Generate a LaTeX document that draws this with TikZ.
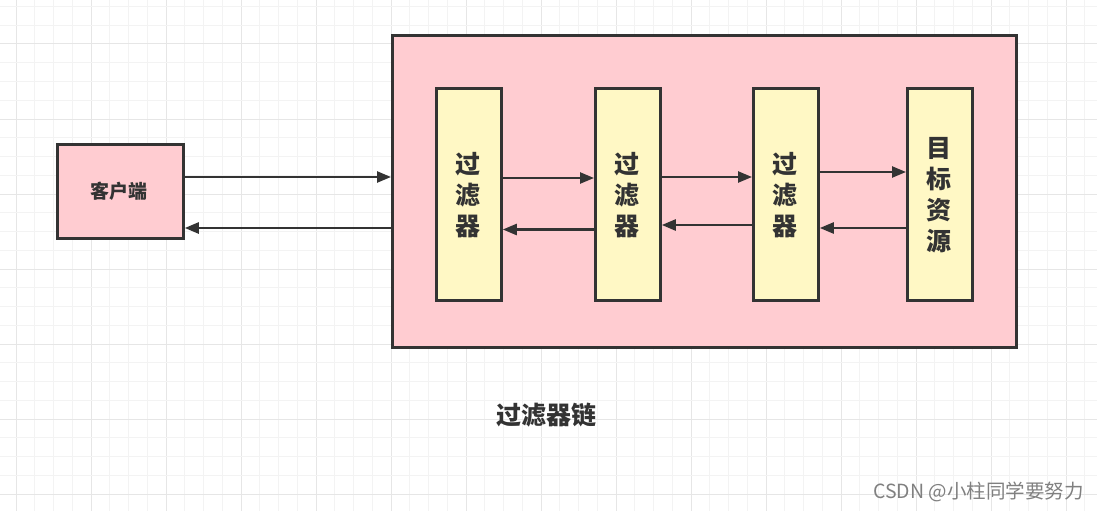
\documentclass[tikz,border=0pt]{standalone}
\usepackage{fontspec}
\newfontfamily\cjk{Noto Sans CJK SC}
\usetikzlibrary{arrows.meta}
\definecolor{pinkfill}{HTML}{FFCCD1}
\definecolor{yellowfill}{HTML}{FFF8C5}
\definecolor{edge}{HTML}{333333}
\definecolor{gridminor}{HTML}{F3F3F3}
\definecolor{gridmajor}{HTML}{E6E6E6}
\tikzset{
  box/.style={draw=edge, line width=2.8pt, inner sep=0pt, anchor=north west},
  pinkbox/.style={box, fill=pinkfill},
  filterbox/.style={box, fill=yellowfill, minimum width=65pt, minimum height=212pt},
  vlabel/.style={font=\cjk\bfseries\fontsize{25}{31}\selectfont, text=edge, align=center, inner sep=0pt},
  arr/.style={draw=edge, line width=2.5pt, -{Triangle[length=14pt,width=11pt]}},
}
\begin{document}
\begin{tikzpicture}[x=1pt,y=-1pt]
\useasboundingbox (0,0) rectangle (1097,511);
\fill[white] (0,0) rectangle (1097,511);
% grid
\foreach \k in {-1,...,58}{
  \pgfmathtruncatemacro{\m}{mod(\k+4,4)}
  \ifnum\m=0 \draw[gridmajor, line width=1pt] ({16+\k*18.75},0) -- ({16+\k*18.75},511);
  \else \draw[gridminor, line width=1pt] ({16+\k*18.75},0) -- ({16+\k*18.75},511); \fi
}
\foreach \k in {-3,...,25}{
  \pgfmathtruncatemacro{\m}{mod(\k+4,4)}
  \ifnum\m=0 \draw[gridmajor, line width=1pt] (0,{44+\k*18.75}) -- (1097,{44+\k*18.75});
  \else \draw[gridminor, line width=1pt] (0,{44+\k*18.75}) -- (1097,{44+\k*18.75}); \fi
}
% boxes
\node[pinkbox, minimum width=126pt, minimum height=94pt] (client) at (56,143) {};
\node[font=\cjk\bfseries\fontsize{19}{22}\selectfont, text=edge] (clientlabel) at (119,191) {客户端};
\node[pinkbox, minimum width=624pt, minimum height=312pt] (chain) at (391,34) {};
\node[filterbox] (f1) at (435,87) {};
\node[filterbox] (f2) at (594,87) {};
\node[filterbox] (f3) at (752,87) {};
\node[filterbox] (t) at (906,87) {};
\node[vlabel] (f1l) at (467.5,195) {过\\滤\\器};
\node[vlabel] (f2l) at (626.5,195) {过\\滤\\器};
\node[vlabel] (f3l) at (784.5,195) {过\\滤\\器};
\node[vlabel] (tl) at (938.5,195) {目\\标\\资\\源};
% arrows
\draw[arr] (client.east |- 0,177) -- (chain.west |- 0,177);
\draw[arr] (chain.west |- 0,228) -- (client.east |- 0,228);
\draw[arr] (f1.east |- 0,178) -- (f2.west |- 0,178);
\draw[arr] (f2.west |- 0,229.5) -- (f1.east |- 0,229.5);
\draw[arr] (f2.east |- 0,177) -- (f3.west |- 0,177);
\draw[arr] (f3.west |- 0,225) -- (f2.east |- 0,225);
\draw[arr] (f3.east |- 0,172) -- (t.west |- 0,172);
\draw[arr] (t.west |- 0,228) -- (f3.east |- 0,228);
% caption
\node[font=\cjk\bfseries\fontsize{25}{28}\selectfont, text=edge] (caption) at (546,415) {过滤器链};
\node[font=\cjk\fontsize{19.5}{22}\selectfont, text=black!50, anchor=west, inner sep=0pt] (wm) at (873,492) {CSDN @小柱同学要努力};
\end{tikzpicture}
\end{document}
